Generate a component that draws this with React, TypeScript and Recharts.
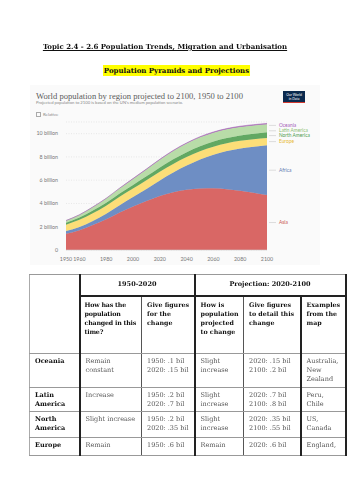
import React from 'react';
import { AreaChart, Area, XAxis, YAxis, CartesianGrid, ReferenceDot } from 'recharts';

// population by region, billions (UN medium scenario)
const years = [1950, 1960, 1970, 1980, 1990, 2000, 2010, 2020, 2030, 2040, 2050, 2060, 2070, 2080, 2090, 2100];
const asia = [1.4, 1.7, 2.14, 2.64, 3.22, 3.74, 4.21, 4.64, 4.97, 5.18, 5.29, 5.3, 5.23, 5.1, 4.93, 4.72];
const africa = [0.23, 0.28, 0.36, 0.48, 0.63, 0.81, 1.04, 1.34, 1.69, 2.08, 2.49, 2.89, 3.27, 3.63, 3.95, 4.28];
const europe = [0.55, 0.61, 0.66, 0.69, 0.72, 0.73, 0.74, 0.75, 0.74, 0.73, 0.71, 0.69, 0.67, 0.65, 0.64, 0.63];
const northAmerica = [0.17, 0.2, 0.23, 0.25, 0.28, 0.31, 0.34, 0.37, 0.4, 0.42, 0.43, 0.45, 0.46, 0.47, 0.48, 0.49];
const latinAmerica = [0.17, 0.22, 0.29, 0.36, 0.44, 0.52, 0.59, 0.65, 0.71, 0.74, 0.76, 0.75, 0.74, 0.72, 0.7, 0.68];
const oceania = [0.013, 0.016, 0.02, 0.023, 0.027, 0.031, 0.037, 0.043, 0.048, 0.053, 0.057, 0.061, 0.065, 0.068, 0.072, 0.075];

const xTicks = [1950, 1960, 1980, 2000, 2020, 2040, 2060, 2080, 2100];
const yTicks = [0, 2, 4, 6, 8, 10];

// bottom to top
const series = [
  { key: 'asia', name: 'Asia', values: asia, fill: '#d96765', text: '#c9504d', dy: 0 },
  { key: 'africa', name: 'Africa', values: africa, fill: '#6e8ec4', text: '#5a78b0', dy: 0 },
  { key: 'europe', name: 'Europe', values: europe, fill: '#fcde78', text: '#e8b830', dy: 0 },
  { key: 'northAmerica', name: 'North America', values: northAmerica, fill: '#62a862', text: '#4c9a4c', dy: 0.5 },
  { key: 'latinAmerica', name: 'Latin America', values: latinAmerica, fill: '#b8dca8', text: '#8cc072', dy: 2.5 },
  { key: 'oceania', name: 'Oceania', values: oceania, fill: '#a86ab8', text: '#a35cb8', dy: 1.5 },
];

const data = years.map((year, i) => {
  const row: Record<string, number> = { year };
  series.forEach((s) => (row[s.key] = s.values[i]));
  return row;
});

// label anchors: middle of each band in the last year
const last = years.length - 1;
let running = 0;
const labelAnchors = series.map((s) => {
  const v = s.values[last];
  const mid = running + v / 2;
  running += v;
  return { ...s, mid };
});

// worksheet table
const periodHeaders = ['1950-2020', 'Projection: 2020-2100'];
const questionHeaders = [
  'How has the population changed in this time?',
  'Give figures for the change',
  'How is population projected to change',
  'Give figures to detail this change',
  'Examples from the map',
];
const tableRows = [
  ['Oceania', 'Remain constant', '1950: .1 bil\n2020: .15 bil', 'Slight increase', '2020: .15 bil\n2100: .2 bil', 'Australia, New Zealand'],
  ['Latin America', 'Increase', '1950: .2 bil\n2020: .7 bil', 'Slight increase', '2020: .7 bil\n2100: .8 bil', 'Peru, Chile'],
  ['North America', 'Slight increase', '1950: .2 bil\n2020: .35 bil', 'Slight increase', '2020: .35  bil\n2100: .55 bil', 'US, Canada'],
  ['Europe', 'Remain', '1950: .6 bil', 'Remain', '2020: .6 bil', 'England,'],
];
const rowHeights = [34, 24, 26, 18];

const serif = '"DejaVu Serif", serif';
const thick = '2px solid #222';
const mid = '1.5px solid #555';
const colLeft = ['1px solid #aaa', thick, mid, thick, mid, thick];

function LabelShape(props: any) {
  const { cx, cy, color, name, dy } = props;
  return (
    <g>
      <line x1={cx + 2} y1={cy + dy} x2={cx + 9} y2={cy + dy} stroke="#c8c8c8" strokeWidth={0.6} />
      <text x={cx + 12} y={cy + dy} dy="0.35em" fontSize={4.8} fill={color} fontFamily="Lato, sans-serif">
        {name}
      </text>
    </g>
  );
}

function YTick(props: any) {
  const { x, y, payload } = props;
  const v = payload.value;
  return (
    <text x={x} y={y} dy="0.35em" textAnchor="end" fontSize={5.3} fill="#777" fontFamily="Lato, sans-serif">
      {v === 0 ? '0' : `${v} billion`}
    </text>
  );
}

export default function App() {
  const cell: React.CSSProperties = {
    border: '1px solid #999',
    padding: '3px 2px 1px 5px',
    verticalAlign: 'top',
    fontSize: 6.5,
    lineHeight: '9.2px',
    color: '#555',
    whiteSpace: 'pre-line',
    overflow: 'hidden',
  };
  return (
    <div style={{ position: 'absolute', left: 0, top: 0, width: 353, height: 500, background: '#fff', fontFamily: serif }}>
      <div style={{ position: 'absolute', left: 0, width: 330, top: 42, textAlign: 'center', fontWeight: 'bold', fontSize: 7, textDecoration: 'underline', color: '#111', willChange: 'transform' }}>
        Topic 2.4 - 2.6 Population Trends, Migration and Urbanisation
      </div>
      <div style={{ position: 'absolute', left: 0, width: 353, top: 66, textAlign: 'center', fontWeight: 'bold', fontSize: 7, color: '#111' }}>
        <span style={{ background: '#ffff00', padding: '1px 1px' }}>Population Pyramids and Projections</span>
      </div>

      <div style={{ position: 'absolute', left: 30, top: 85, width: 290, height: 180, background: '#fafafa' }}>
        <AreaChart width={290} height={180} data={data} margin={{ top: 37, right: 53, bottom: 0, left: 0 }}>
          <CartesianGrid vertical={false} stroke="#dcdcdc" strokeDasharray="1 1.5" strokeWidth={0.6} />
          <XAxis
            dataKey="year"
            type="number"
            domain={[1950, 2100]}
            ticks={xTicks}
            interval={0}
            height={15}
            tickLine={false}
            axisLine={{ stroke: '#ccc', strokeWidth: 0.6 }}
            tick={{ fontSize: 5.3, fill: '#777', fontFamily: 'Lato, sans-serif' }}
            tickMargin={1}
          />
          <YAxis
            width={36}
            domain={[0, 11]}
            ticks={yTicks}
            axisLine={false}
            tickLine={false}
            tick={<YTick />}
            tickMargin={2}
          />
          {series.map((s) => (
            <Area
              key={s.key}
              dataKey={s.key}
              stackId="1"
              type="monotone"
              fill={s.fill}
              fillOpacity={1}
              stroke={s.fill}
              strokeWidth={0.6}
              isAnimationActive={false}
            />
          ))}
          {labelAnchors.map((s) => (
            <ReferenceDot
              key={s.key}
              x={years[last]}
              y={s.mid}
              r={0}
              ifOverflow="visible"
              shape={(p: any) => <LabelShape {...p} color={s.text} name={s.name} dy={s.dy} />}
            />
          ))}
        </AreaChart>
        <div style={{ position: 'absolute', left: 6, top: 6, fontSize: 8.6, color: '#5b5b5b', fontFamily: '"Liberation Serif", serif', whiteSpace: 'nowrap' }}>
          World population by region projected to 2100, 1950 to 2100
        </div>
        <div style={{ position: 'absolute', left: 6, top: 15, fontSize: 4.2, color: '#888', fontFamily: 'Lato, sans-serif', whiteSpace: 'nowrap' }}>
          Projected population to 2100 is based on the UN's medium population scenario.
        </div>
        <div style={{ position: 'absolute', left: 6, top: 27, fontSize: 4.4, color: '#888', fontFamily: 'Lato, sans-serif', whiteSpace: 'nowrap', display: 'flex', alignItems: 'center' }}>
          <span style={{ display: 'inline-block', width: 3, height: 3, border: '0.5px solid #aaa', marginRight: 2 }} />
          Relative
        </div>
        <div style={{ position: 'absolute', left: 253, top: 6, width: 22, height: 12, background: '#0b2a4e', borderBottom: '1.5px solid #d23a30', color: '#fff', fontSize: 3.4, lineHeight: '4px', textAlign: 'center', fontFamily: 'Lato, sans-serif', paddingTop: 2, boxSizing: 'border-box' }}>
          Our World<br />in Data
        </div>
      </div>

      <table style={{ position: 'absolute', left: 29, top: 274, width: 316, borderCollapse: 'collapse', tableLayout: 'fixed', fontFamily: serif, willChange: 'transform' }}>
        <colgroup>
          <col style={{ width: 50 }} />
          <col style={{ width: 62 }} />
          <col style={{ width: 53 }} />
          <col style={{ width: 49 }} />
          <col style={{ width: 57 }} />
          <col style={{ width: 45 }} />
        </colgroup>
        <tbody>
          <tr style={{ height: 21 }}>
            <td rowSpan={2} style={{ ...cell, borderLeft: colLeft[0] }} />
            <td colSpan={2} style={{ ...cell, borderLeft: thick, borderBottom: thick, textAlign: 'center', verticalAlign: 'middle', fontWeight: 'bold', color: '#111', padding: 0 }}>
              {periodHeaders[0]}
            </td>
            <td colSpan={3} style={{ ...cell, borderLeft: thick, borderRight: thick, borderBottom: thick, textAlign: 'center', verticalAlign: 'middle', fontWeight: 'bold', color: '#111', padding: 0 }}>
              {periodHeaders[1]}
            </td>
          </tr>
          <tr style={{ height: 58 }}>
            {questionHeaders.map((q, i) => (
              <td
                key={i}
                style={{
                  ...cell,
                  fontSize: 6.3,
                  letterSpacing: i === 0 ? -0.2 : 0,
                  paddingLeft: i === 0 ? 4 : 5,
                  paddingRight: i === 0 ? 1 : 2,
                  borderLeft: colLeft[i + 1],
                  borderRight: i === 4 ? thick : undefined,
                  fontWeight: 'bold',
                  color: '#111',
                }}
              >
                {q}
              </td>
            ))}
          </tr>
          {tableRows.map((row, r) => (
            <tr key={r} style={{ height: rowHeights[r] }}>
              {row.map((c, i) => (
                <td
                  key={i}
                  style={{
                    ...cell,
                    borderLeft: colLeft[i],
                    borderRight: i === 5 ? thick : undefined,
                    fontWeight: i === 0 ? 'bold' : 'normal',
                    color: i === 0 ? '#111' : '#555',
                  }}
                >
                  {c}
                </td>
              ))}
            </tr>
          ))}
        </tbody>
      </table>
    </div>
  );
}
